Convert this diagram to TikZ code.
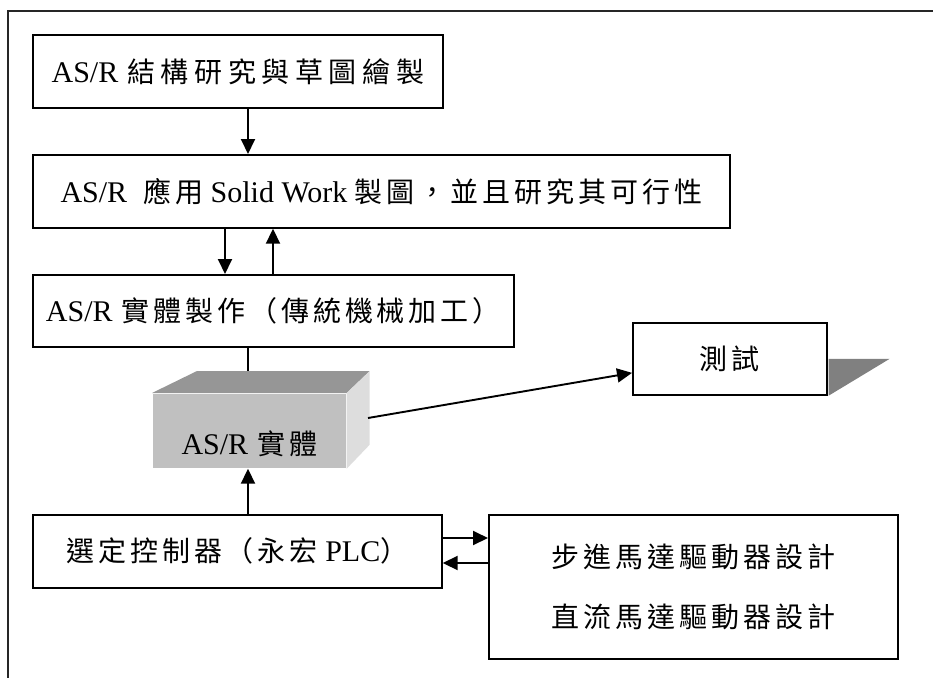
\documentclass[tikz,border=0pt]{standalone}
\usepackage{fontspec}
\setmainfont{Liberation Serif}
\newfontfamily\cjkfn[LetterSpace=14]{Noto Sans CJK TC}
\newfontfamily\cjkfw[LetterSpace=20]{Noto Sans CJK TC}
\newcommand\cjn{\cjkfn\fontsize{28}{34}\selectfont}
\newcommand\cjw{\cjkfw\fontsize{28}{34}\selectfont}
\usetikzlibrary{arrows.meta,calc}
\definecolor{cubefront}{HTML}{C0C0C0}
\definecolor{cubetopc}{HTML}{969696}
\definecolor{cubeside}{HTML}{DDDDDD}
\definecolor{shadowc}{HTML}{808080}
\tikzset{
  box/.style={draw=black, line width=1.7pt, fill=white, anchor=north west, inner sep=0pt,
              font=\fontsize{30}{36}\selectfont},
  arr/.style={line width=1.9pt, -{Triangle[length=15pt,width=14pt]}},
  ln/.style={line width=1.9pt},
}
\begin{document}
\begin{tikzpicture}[x=1pt,y=-1pt]
\useasboundingbox (0,0) rectangle (933,677);
\draw[line width=1.5pt, draw=black!85] (8,678) -- (8,11) -- (934,11);

\node[box, minimum width=410pt, minimum height=73pt] (b1) at (32,34) {AS/R\hspace{9pt}{\cjw 結構研究與草圖繪製}};
\node[box, minimum width=697pt, minimum height=73pt] (b2) at (32,154) {AS/R\hspace{16pt}{\cjn 應用} Solid Work {\cjn 製圖，並且研究其可行性}};
\node[box, minimum width=481pt, minimum height=72pt] (b3) at (32,274) {AS/R\hspace{9pt}{\cjn 實體製作（傳統機械加工）}};
\node[box, draw=none, fill=cubefront, minimum width=193pt, minimum height=74pt] (cube) at (152,393) {};
\node[box, minimum width=194pt, minimum height=72pt] (t) at (632,322) {\cjn 測試};
\node[box, minimum width=409pt, minimum height=73pt] (sel) at (32,514) {{\cjn 選定控制器（永宏} PLC{\cjn ）}};
\node[box, minimum width=409pt, minimum height=144pt, align=center,
      font=\cjn\fontsize{28}{60}\selectfont] (drv) at (488,514) {步進馬達驅動器設計\\直流馬達驅動器設計};

% cube faces
\coordinate (ctl) at ($(cube.north west)+(45,-22)$);
\coordinate (ctr) at ($(cube.north east)+(23,-22)$);
\coordinate (cbr) at ($(cube.south east)+(23,-24)$);
\fill[cubetopc] (cube.north west) -- (ctl) -- (ctr) -- (cube.north east) -- cycle;
\fill[cubeside] (cube.north east) -- (ctr) -- (cbr) -- (cube.south east) -- cycle;
\node[font=\fontsize{30}{36}\selectfont, inner sep=0pt] (cubetxt) at ($(cube.center)+(0,13)$) {AS/R\hspace{9pt}{\cjn 實體}};

% shadow of test box
\fill[shadowc] ($(t.east)+(0.9,0)$) -- ++(61,0) -- ($(t.south east)+(0.9,0)$) -- cycle;

% helper coordinates
\coordinate (xa) at (248,0);
\coordinate (xd) at (225,0);
\coordinate (xu) at (273,0);
\coordinate (ya) at (0,538);
\coordinate (yb) at (0,563);
\coordinate (cr) at (368,418);
\coordinate (tin) at ($(t.south west)!0.31!(t.north west)$);

% connectors
\draw[arr] (b1.south -| xa) -- (b2.north -| xa);
\draw[arr] (b2.south -| xd) -- (b3.north -| xd);
\draw[arr] (b3.north -| xu) -- (b2.south -| xu);
\draw[ln] (b3.south -| xa) -- (ctl -| xa);
\draw[arr] (sel.north -| xa) -- (cube.south -| xa);
\draw[arr] (sel.east |- ya) -- (drv.west |- ya);
\draw[arr] (drv.west |- yb) -- (sel.east |- yb);
\draw[arr] (cr) -- (tin);
\end{tikzpicture}
\end{document}
